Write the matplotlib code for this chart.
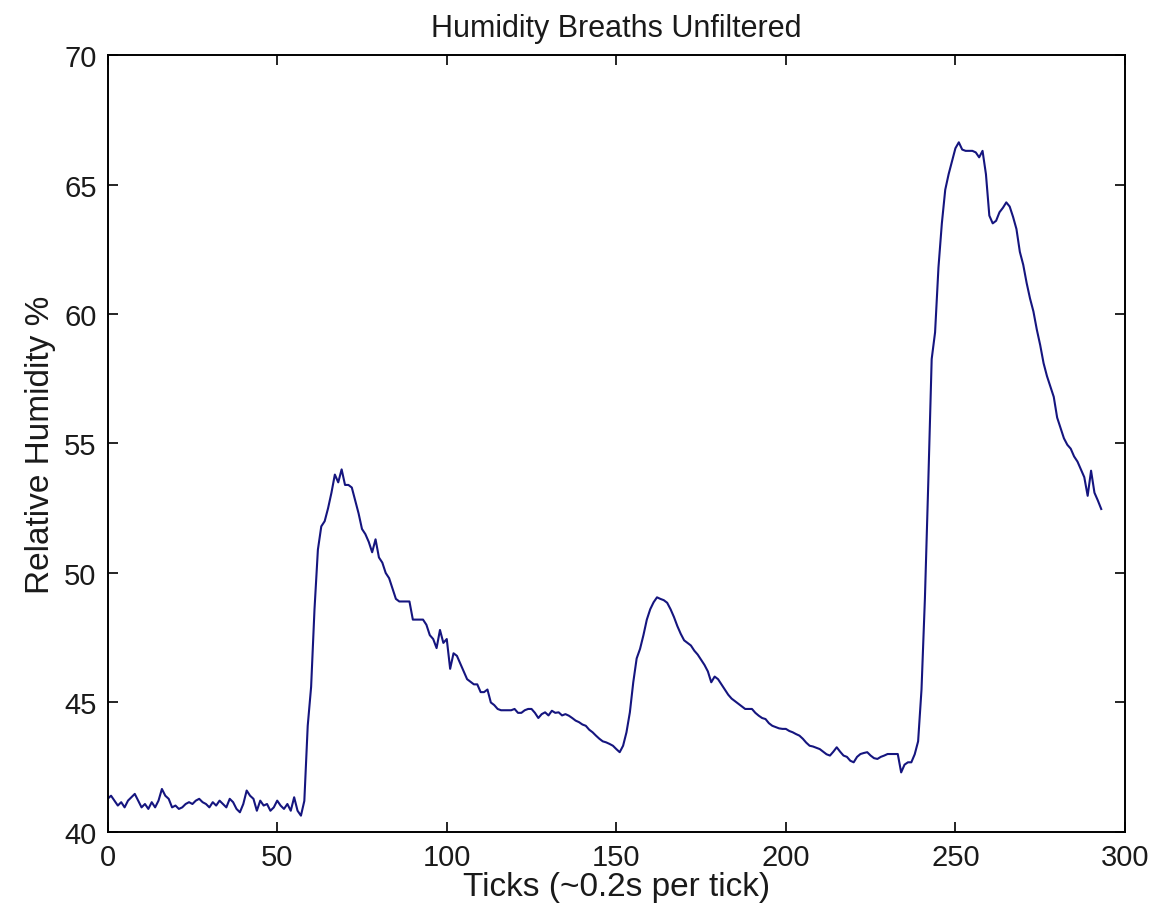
import matplotlib
matplotlib.use("Agg")
import matplotlib.pyplot as plt
import numpy as np

# Relative humidity readings, one per tick (tick 0 .. 293)
baseline = [41.28, 41.40, 41.21, 41.02, 41.15, 40.95, 41.21, 41.34, 41.47, 41.21,
            40.95, 41.08, 40.89, 41.15, 40.95, 41.21, 41.66, 41.40, 41.28, 40.95,
            41.02, 40.89, 40.95, 41.08, 41.15, 41.08, 41.21, 41.28, 41.15, 41.08,
            40.95, 41.15, 41.02, 41.21, 41.08, 40.95, 41.28, 41.15, 40.89, 40.76,
            41.08, 41.60, 41.40, 41.28, 40.82, 41.21, 41.02, 41.08, 40.82, 40.95,
            41.21, 41.02, 40.89, 41.08, 40.82, 41.34, 40.82, 40.63, 41.20]
breath1 = [44.10, 45.60, 48.60, 50.90, 51.80, 52.00, 52.50, 53.10, 53.80, 53.50,
           54.00, 53.40, 53.40, 53.30, 52.80, 52.30, 51.70, 51.50, 51.20, 50.80,
           51.30, 50.60, 50.40, 50.00, 49.80, 49.40, 49.00, 48.90, 48.90, 48.90,
           48.90, 48.20, 48.20, 48.20, 48.20, 48.00, 47.60, 47.45, 47.10, 47.80,
           47.30, 47.45, 46.30, 46.90, 46.80, 46.50, 46.20, 45.90, 45.80, 45.70,
           45.70, 45.40, 45.40, 45.50, 45.00, 44.90, 44.75, 44.70, 44.70, 44.70,
           44.70, 44.75, 44.60, 44.60, 44.70, 44.75, 44.75, 44.60, 44.40, 44.55,
           44.62, 44.50, 44.68, 44.60, 44.62, 44.50, 44.55, 44.49, 44.40, 44.30,
           44.24, 44.15, 44.10, 43.95, 43.85, 43.72, 43.60, 43.50, 43.46, 43.40,
           43.33, 43.20, 43.08, 43.33]
breath2 = [43.85, 44.62, 45.78, 46.70, 47.07, 47.60, 48.20, 48.60, 48.87, 49.06,
           49.00, 48.95, 48.85, 48.60, 48.30, 47.95, 47.65, 47.40, 47.30, 47.20,
           47.00, 46.85, 46.65, 46.45, 46.20, 45.78, 46.00, 45.90, 45.70, 45.50,
           45.30, 45.15, 45.05, 44.95, 44.85, 44.75, 44.75, 44.75, 44.60, 44.49,
           44.40, 44.36, 44.20, 44.10, 44.05, 44.00, 43.98, 43.98, 43.90, 43.85,
           43.78, 43.72, 43.60, 43.45, 43.33, 43.30, 43.25, 43.20, 43.10, 43.00,
           42.95, 43.10, 43.27, 43.10, 42.95, 42.90, 42.75, 42.69, 42.90, 43.01,
           43.05, 43.08, 42.95, 42.85, 42.82, 42.90, 42.95, 43.01, 43.01, 43.01,
           43.01, 42.30, 42.60, 42.69, 42.69, 43.00, 43.50]
breath3 = [45.50, 49.00, 53.50, 58.26, 59.29, 61.80, 63.50, 64.80, 65.40, 65.90,
           66.40, 66.63, 66.35, 66.30, 66.30, 66.30, 66.24, 66.05, 66.30, 65.40,
           63.80, 63.50, 63.60, 63.93, 64.10, 64.31, 64.15, 63.75, 63.28, 62.40,
           61.90, 61.20, 60.60, 60.10, 59.40, 58.80, 58.10, 57.60, 57.20, 56.80,
           56.00, 55.60, 55.20, 54.95, 54.80, 54.50, 54.30, 54.00, 53.70, 52.98,
           53.95, 53.10, 52.80, 52.47]

humidity = np.array(baseline + breath1 + breath2 + breath3)
ticks = np.arange(len(humidity))

x_ticks = [0, 50, 100, 150, 200, 250, 300]
y_ticks = [40, 45, 50, 55, 60, 65, 70]

title_text = "Humidity Breaths Unfiltered"
x_label = "Ticks (~0.2s per tick)"
y_label = "Relative Humidity %"

plt.rcParams['font.family'] = ['Liberation Sans', 'DejaVu Sans']

fig = plt.figure(figsize=(11.55, 9.2), dpi=100)
ax = fig.add_axes([0.0932, 0.0946, 0.8808, 0.8445])
ax.plot(ticks, humidity, color='#15157f', linewidth=1.5)

ax.set_xlim(0, 300)
ax.set_ylim(40, 70)
ax.set_xticks(x_ticks)
ax.set_yticks(y_ticks)
ax.tick_params(axis='both', direction='in', length=7, width=1.2, labelsize=21,
               top=True, right=True, color='black', labelcolor='#1a1a1a')
ax.tick_params(axis='x', pad=8)
ax.tick_params(axis='y', pad=8)
for s in ax.spines.values():
    s.set_linewidth(1.4)
    s.set_color('black')

ax.set_title(title_text, fontsize=22, pad=14, color='#1a1a1a')
ax.set_xlabel(x_label, fontsize=24, labelpad=0, color='#1a1a1a')
ax.set_ylabel(y_label, fontsize=24, labelpad=6, color='#1a1a1a')

fig.savefig("out.png", dpi=100, facecolor='white')
